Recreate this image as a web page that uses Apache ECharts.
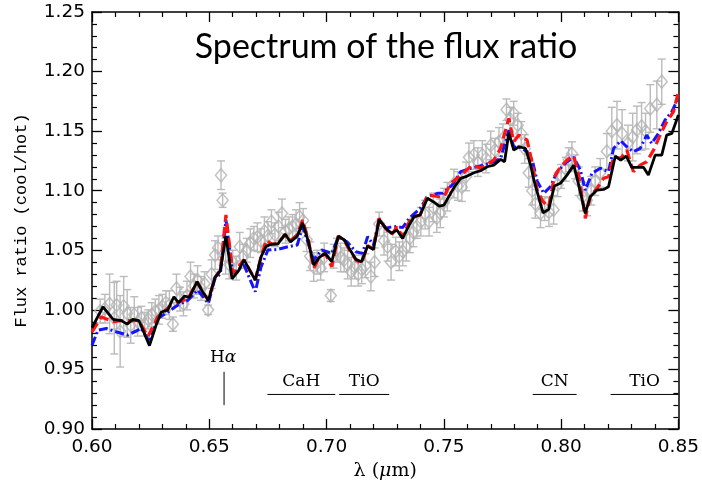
<!DOCTYPE html>
<html>
<head>
<meta charset="utf-8">
<script src="https://cdn.jsdelivr.net/npm/echarts@6/dist/echarts.min.js"></script>
<style>
html,body{margin:0;padding:0;background:#fff;}
#chart{width:702px;height:487px;}
</style>
</head>
<body>
<div id="chart"></div>
<script>
// ---------- DATA ----------
const xTicks = [0.60, 0.65, 0.70, 0.75, 0.80, 0.85];
const yTicks = [0.90, 0.95, 1.00, 1.05, 1.10, 1.15, 1.20, 1.25];

// model 1 (black solid)
const modelBlack = [
[0.600,0.985],[0.6047,1.0026],[0.609,0.992],[0.6125,0.991],[0.615,0.988],[0.6174,0.992],[0.620,0.991],
[0.6245,0.970],[0.6273,0.987],[0.6295,0.998],[0.6323,1.000],[0.6349,1.011],[0.6369,1.006],[0.6394,1.0115],
[0.6415,1.0105],[0.6448,1.0236],[0.6472,1.015],[0.6496,1.008],[0.6524,1.027],[0.6547,1.033],[0.6571,1.062],
[0.6597,1.026],[0.6625,1.033],[0.6648,1.042],[0.6696,1.025],[0.6721,1.0446],[0.6743,1.0535],[0.6767,1.0552],
[0.6792,1.0552],[0.6823,1.0636],[0.6846,1.057],[0.6875,1.0619],[0.6898,1.073],[0.6923,1.057],[0.6945,1.0376],
[0.6969,1.044],[0.6994,1.0474],[0.7022,1.0404],[0.705,1.0619],[0.7076,1.0586],[0.7101,1.050],[0.7125,1.0424],
[0.7149,1.0404],[0.7175,1.0535],[0.720,1.0507],[0.7224,1.076],[0.7253,1.0684],[0.7277,1.0642],[0.730,1.067],
[0.7324,1.060],[0.7352,1.0712],[0.7373,1.0782],[0.7399,1.0796],[0.743,1.0936],[0.7455,1.0908],[0.748,1.0871],
[0.7501,1.088],[0.7529,1.0978],[0.755,1.1047],[0.7572,1.1104],[0.760,1.1123],[0.7628,1.1151],[0.7657,1.1168],
[0.7685,1.1201],[0.7713,1.1215],[0.7742,1.1263],[0.7759,1.1243],[0.7777,1.1487],[0.7798,1.1341],[0.782,1.1369],
[0.7848,1.1356],[0.787,1.1215],[0.7885,1.108],[0.7923,1.0815],[0.7947,1.0843],[0.7971,1.1039],[0.7997,1.1062],
[0.8025,1.1131],[0.8054,1.1215],[0.8075,1.1047],[0.8103,1.081],[0.8124,1.0949],[0.8153,1.1005],[0.8181,1.1011],
[0.8202,1.1033],[0.8231,1.1291],[0.8254,1.1257],[0.8278,1.1291],[0.8301,1.1196],[0.833,1.1196],[0.8351,1.1196],
[0.8372,1.1131],[0.8401,1.1299],[0.8429,1.1299],[0.845,1.1467],[0.8472,1.1481],[0.850,1.1635]
];

// model 2 (red dashed)
const modelRed = [
[0.600,0.9816],[0.604,0.994],[0.609,0.990],[0.6125,0.991],[0.617,0.991],[0.620,0.991],[0.6238,0.9774],
[0.628,0.994],[0.6305,0.998],[0.6337,1.004],[0.6373,1.0068],[0.641,1.0096],[0.6448,1.0236],[0.6472,1.015],
[0.6496,1.008],[0.6524,1.027],[0.6547,1.0334],[0.6571,1.0796],[0.660,1.0306],[0.6648,1.042],[0.6696,1.025],
[0.6721,1.045],[0.6743,1.0586],[0.6767,1.055],[0.6792,1.056],[0.6823,1.063],[0.6846,1.058],[0.6875,1.063],
[0.6898,1.0754],[0.6923,1.058],[0.6945,1.0348],[0.6969,1.044],[0.6994,1.0474],[0.7022,1.0362],[0.705,1.062],
[0.7076,1.058],[0.7101,1.049],[0.7125,1.042],[0.7149,1.039],[0.7175,1.054],[0.720,1.051],[0.7224,1.0768],
[0.7253,1.068],[0.7277,1.0628],[0.730,1.0697],[0.7324,1.0614],[0.7352,1.0739],[0.7373,1.078],[0.7399,1.0796],
[0.743,1.0964],[0.748,1.0949],[0.7501,1.095],[0.7529,1.1062],[0.7572,1.1131],[0.7621,1.1215],[0.7657,1.119],
[0.7713,1.1257],[0.7742,1.1356],[0.7777,1.1607],[0.7798,1.1411],[0.782,1.1467],[0.7855,1.1425],[0.7877,1.123],
[0.7898,1.1005],[0.7923,1.0908],[0.7947,1.0866],[0.7971,1.1117],[0.7997,1.1201],[0.8025,1.1257],[0.8054,1.1291],
[0.8075,1.1131],[0.8103,1.0768],[0.8124,1.0949],[0.8153,1.102],[0.8181,1.1104],[0.8202,1.1117],[0.8224,1.1285],
[0.8254,1.1271],[0.828,1.1341],[0.8308,1.116],[0.8337,1.1215],[0.8365,1.1243],[0.8394,1.1341],[0.8422,1.1467],
[0.845,1.1579],[0.8479,1.1663],[0.850,1.1831]
];

// model 3 (blue dash-dot)
const modelBlue = [
[0.600,0.9704],[0.6026,0.983],[0.6061,0.9844],[0.6103,0.9816],[0.6153,0.9788],[0.621,0.9844],[0.6245,0.9732],
[0.628,0.9928],[0.6323,0.998],[0.6366,1.004],[0.641,1.0082],[0.645,1.0166],[0.6496,1.0054],[0.6524,1.0262],
[0.6547,1.030],[0.6571,1.0754],[0.660,1.0306],[0.6648,1.0376],[0.6696,1.0152],[0.6721,1.0362],[0.675,1.0502],
[0.6792,1.0507],[0.6835,1.053],[0.6875,1.0544],[0.6898,1.0697],[0.6923,1.0552],[0.6945,1.0418],[0.6979,1.0502],
[0.7022,1.0474],[0.705,1.061],[0.7087,1.0572],[0.7125,1.0488],[0.7153,1.0474],[0.7175,1.0614],[0.720,1.0544],
[0.7224,1.0754],[0.7253,1.0684],[0.7277,1.0697],[0.730,1.070],[0.7324,1.069],[0.7352,1.0767],[0.7399,1.0852],
[0.743,1.0949],[0.7473,1.0978],[0.7494,1.0978],[0.7535,1.1047],[0.7572,1.116],[0.7614,1.1188],[0.767,1.1215],
[0.7713,1.1243],[0.7742,1.1271],[0.7777,1.1509],[0.7798,1.1369],[0.7827,1.1363],[0.7855,1.1327],[0.7877,1.1257],
[0.7898,1.108],[0.7926,1.0978],[0.7954,1.1033],[0.7983,1.1159],[0.8025,1.1243],[0.8054,1.128],[0.8082,1.1173],
[0.8103,1.1005],[0.8131,1.1145],[0.8167,1.1188],[0.8202,1.116],[0.8224,1.1356],[0.8254,1.1419],[0.828,1.1369],
[0.8308,1.1327],[0.8337,1.1356],[0.8365,1.1467],[0.8386,1.1397],[0.8415,1.1481],[0.8443,1.1593],[0.8472,1.1663],
[0.850,1.1780]
];

// observed ratio: [wavelength, ratio, error]
const observed = [
[0.6035,0.999,0.010],[0.6055,1.001,0.012],[0.6075,1.005,0.025],[0.6095,0.993,0.030],[0.6105,1.004,0.020],
[0.612,0.982,0.030],[0.6135,1.003,0.025],[0.615,0.997,0.020],[0.6165,0.987,0.015],[0.618,0.996,0.015],
[0.6195,0.990,0.012],[0.621,0.993,0.010],[0.6225,0.988,0.010],[0.624,0.992,0.008],[0.6255,0.996,0.010],
[0.627,0.999,0.010],[0.6285,1.000,0.012],[0.630,1.003,0.010],[0.6315,1.006,0.010],[0.633,1.004,0.012],
[0.6345,0.988,0.006],[0.636,1.018,0.012],[0.6375,1.009,0.010],[0.639,1.005,0.010],[0.6405,1.012,0.012],
[0.642,1.028,0.012],[0.6435,1.020,0.010],[0.645,1.025,0.012],[0.6465,1.018,0.010],[0.648,1.022,0.010],
[0.6495,1.000,0.004],[0.651,1.030,0.012],[0.6525,1.046,0.012],[0.6537,1.052,0.010],[0.655,1.113,0.012],
[0.6557,1.092,0.006],[0.657,1.045,0.015],[0.6585,1.038,0.012],[0.660,1.040,0.010],[0.6615,1.035,0.010],
[0.663,1.053,0.012],[0.6645,1.045,0.010],[0.666,1.050,0.010],[0.6675,1.056,0.012],[0.669,1.060,0.010],
[0.6705,1.061,0.012],[0.672,1.058,0.010],[0.6735,1.066,0.012],[0.675,1.062,0.012],[0.6765,1.074,0.010],
[0.678,1.063,0.010],[0.6795,1.070,0.012],[0.681,1.081,0.012],[0.6825,1.066,0.010],[0.684,1.068,0.010],
[0.6855,1.070,0.010],[0.687,1.072,0.012],[0.6885,1.078,0.012],[0.690,1.075,0.010],[0.6915,1.059,0.010],
[0.693,1.045,0.012],[0.6945,1.036,0.012],[0.696,1.040,0.010],[0.6975,1.035,0.010],[0.699,1.044,0.012],
[0.7018,1.012,0.005],[0.703,1.045,0.010],[0.7045,1.050,0.010],[0.706,1.044,0.012],[0.7075,1.042,0.010],
[0.709,1.038,0.012],[0.7105,1.032,0.012],[0.712,1.036,0.010],[0.7135,1.030,0.010],[0.715,1.034,0.012],
[0.7165,1.037,0.010],[0.7189,1.028,0.012],[0.7205,1.040,0.012],[0.7224,1.072,0.010],[0.7245,1.058,0.012],
[0.726,1.053,0.012],[0.7275,1.040,0.015],[0.7295,1.049,0.012],[0.731,1.045,0.012],[0.7325,1.049,0.012],
[0.734,1.053,0.012],[0.7355,1.060,0.012],[0.737,1.065,0.012],[0.7385,1.070,0.010],[0.7402,1.074,0.012],
[0.742,1.080,0.012],[0.7437,1.074,0.012],[0.7455,1.086,0.012],[0.747,1.077,0.012],[0.7485,1.081,0.012],
[0.750,1.090,0.012],[0.7515,1.095,0.012],[0.7543,1.106,0.012],[0.756,1.104,0.012],[0.7577,1.103,0.012],
[0.7595,1.112,0.012],[0.7607,1.128,0.012],[0.7628,1.130,0.012],[0.7645,1.124,0.012],[0.7664,1.130,0.012],
[0.768,1.127,0.012],[0.770,1.138,0.012],[0.7718,1.134,0.010],[0.7735,1.141,0.012],[0.7752,1.144,0.012],
[0.7767,1.168,0.009],[0.7783,1.160,0.010],[0.7798,1.165,0.010],[0.7815,1.155,0.010],[0.783,1.148,0.010],
[0.7845,1.135,0.012],[0.7862,1.115,0.012],[0.7877,1.100,0.012],[0.789,1.089,0.012],[0.7912,1.081,0.012],
[0.793,1.085,0.010],[0.7948,1.082,0.012],[0.7968,1.084,0.012],[0.7985,1.105,0.010],[0.800,1.112,0.010],
[0.802,1.118,0.010],[0.8032,1.126,0.010],[0.8046,1.131,0.010],[0.806,1.120,0.010],[0.8075,1.108,0.012],
[0.8092,1.095,0.012],[0.811,1.092,0.013],[0.8128,1.100,0.012],[0.8145,1.108,0.012],[0.8167,1.115,0.012],
[0.8195,1.133,0.015],[0.8216,1.150,0.020],[0.8238,1.155,0.020],[0.826,1.148,0.020],[0.8285,1.140,0.015],
[0.8305,1.145,0.020],[0.8323,1.151,0.020],[0.8343,1.154,0.020],[0.836,1.150,0.015],[0.838,1.169,0.020],
[0.8408,1.172,0.020],[0.8429,1.1915,0.019]
];

// spectral feature annotations
const bandNames = ['CaH', 'TiO', 'CN', 'TiO'];
const bandStart = [0.6748, 0.7054, 0.7879, 0.8211];
const bandEnd   = [0.7037, 0.7267, 0.8066, 0.8500];
const bandLevel = 0.929;
const lineName = 'H{a|α}';
const lineWave = 0.6563;
const lineLow = 0.920, lineHigh = 0.948;

// ---------- CHART ----------
const chart = echarts.init(document.getElementById('chart'), null, {renderer: 'canvas'});

const bandData = bandNames.map((n, i) => [bandStart[i], bandEnd[i], bandLevel, n]);
const axisColor = '#000';

const commonX = {
  type: 'value', min: 0.6, max: 0.85, interval: 0.05,
  splitLine: {show: false},
  axisLine: {show: true, onZero: false, lineStyle: {color: axisColor, width: 1.5}},
  axisTick: {show: true, inside: true, length: 10, lineStyle: {color: axisColor, width: 1.3}},
  minorTick: {show: true, splitNumber: 5, length: 5, lineStyle: {color: axisColor, width: 1.2}},
};
const commonY = {
  type: 'value', min: 0.9, max: 1.25, interval: 0.05,
  splitLine: {show: false},
  axisLine: {show: true, onZero: false, lineStyle: {color: axisColor, width: 1.5}},
  axisTick: {show: true, inside: true, length: 10, lineStyle: {color: axisColor, width: 1.3}},
  minorTick: {show: true, splitNumber: 5, length: 5, lineStyle: {color: axisColor, width: 1.2}},
};

const option = {
  animation: false,
  backgroundColor: '#ffffff',
  title: {
    text: 'Spectrum of the flux ratio',
    left: 381, top: 25, textAlign: 'center',
    textStyle: {fontFamily: 'Lato', fontSize: 34, fontWeight: 'normal', color: '#000'}
  },
  grid: {left: 92, right: 22, top: 12, bottom: 58},
  xAxis: [
    Object.assign({}, commonX, {
      position: 'bottom',
      axisLabel: {show: true, margin: 9, color: '#000', fontFamily: 'DejaVu Sans', fontSize: 18.5,
        formatter: v => v.toFixed(2)},
      name: 'λ ({i|μ}m)', nameLocation: 'middle', nameGap: 30,
      nameTextStyle: {fontFamily: 'DejaVu Serif', fontSize: 19, color: '#000',
        rich: {i: {fontFamily: 'DejaVu Serif', fontStyle: 'italic', fontSize: 19, color: '#000'}}}
    }),
    Object.assign({}, commonX, {position: 'top', axisLabel: {show: false}})
  ],
  yAxis: [
    Object.assign({}, commonY, {
      position: 'left',
      axisLabel: {show: true, margin: 7, color: '#000', fontFamily: 'DejaVu Sans', fontSize: 18.5,
        formatter: v => v.toFixed(2)},
      name: 'Flux ratio (cool/hot)', nameLocation: 'middle', nameGap: 62,
      nameTextStyle: {fontFamily: 'Liberation Mono', fontSize: 17, color: '#000'}
    }),
    Object.assign({}, commonY, {position: 'right', axisLabel: {show: false}})
  ],
  series: [
    {
      type: 'custom', name: 'errors', xAxisIndex: 0, yAxisIndex: 0, clip: true, z: 1,
      data: observed,
      renderItem: function (params, api) {
        const x = api.value(0), y = api.value(1), e = api.value(2);
        const t = api.coord([x, y + e]), b = api.coord([x, y - e]);
        const hw = 4;
        const st = {stroke: '#bbbbbb', lineWidth: 1.4};
        return {type: 'group', children: [
          {type: 'line', shape: {x1: t[0], y1: t[1], x2: b[0], y2: b[1]}, style: st},
          {type: 'line', shape: {x1: t[0] - hw, y1: t[1], x2: t[0] + hw, y2: t[1]}, style: st},
          {type: 'line', shape: {x1: b[0] - hw, y1: b[1], x2: b[0] + hw, y2: b[1]}, style: st}
        ]};
      }
    },
    {
      type: 'scatter', name: 'observed', z: 2,
      data: observed.map(d => [d[0], d[1]]),
      symbol: 'diamond', symbolSize: [11, 13],
      itemStyle: {color: 'rgba(255,255,255,0)', borderColor: '#b3b3b3', borderWidth: 1.5}
    },
    {
      type: 'line', name: 'model blue', z: 3, data: modelBlue, showSymbol: false, symbol: 'none',
      lineStyle: {color: '#1414ff', width: 3, type: [9, 3, 2, 3]}
    },
    {
      type: 'line', name: 'model red', z: 4, data: modelRed, showSymbol: false, symbol: 'none',
      lineStyle: {color: '#ff1414', width: 3.2, type: [10, 5]}
    },
    {
      type: 'line', name: 'model black', z: 5, data: modelBlack, showSymbol: false, symbol: 'none',
      lineStyle: {color: '#000', width: 2.8}
    },
    {
      type: 'custom', name: 'bands', z: 6, clip: false,
      data: bandData,
      renderItem: function (params, api) {
        const x1 = api.value(0), x2 = api.value(1), y = api.value(2);
        const name = bandData[params.dataIndex][3];
        const p1 = api.coord([x1, y]), p2 = api.coord([x2, y]);
        return {type: 'group', children: [
          {type: 'line', shape: {x1: p1[0], y1: p1[1], x2: p2[0], y2: p2[1]},
            style: {stroke: '#000', lineWidth: 1}},
          {type: 'text', x: (p1[0] + p2[0]) / 2, y: p1[1] - 4,
            style: {text: name, textAlign: 'center', textVerticalAlign: 'bottom',
              font: '17px "DejaVu Serif"', fill: '#000'}}
        ]};
      }
    },
    {
      type: 'custom', name: 'halpha', z: 6, clip: false,
      data: [[lineWave, lineLow, lineHigh]],
      renderItem: function (params, api) {
        const x = api.value(0);
        const lo = api.coord([x, api.value(1)]), hi = api.coord([x, api.value(2)]);
        return {type: 'group', children: [
          {type: 'line', shape: {x1: lo[0], y1: lo[1], x2: hi[0], y2: hi[1]},
            style: {stroke: '#000', lineWidth: 1}},
          {type: 'text', x: hi[0] - 1, y: hi[1] - 6,
            style: {text: lineName, textAlign: 'center', textVerticalAlign: 'bottom',
              font: '17px "DejaVu Serif"', fill: '#000',
              rich: {a: {fontFamily: 'DejaVu Serif', fontStyle: 'italic', fontSize: 17}}}}
        ]};
      }
    }
  ]
};
chart.setOption(option);
</script>
</body>
</html>
